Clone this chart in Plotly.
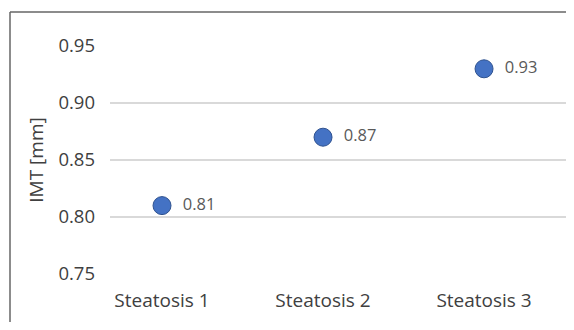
import plotly.graph_objects as go

categories = ["Steatosis 1", "Steatosis 2", "Steatosis 3"]
imt_values = [0.81, 0.87, 0.93]
y_ticks = [0.75, 0.80, 0.85, 0.90, 0.95]
y_tick_labels = ["0.75", "0.80", "0.85", "0.90", "0.95"]

FONT = "Open Sans, Noto Sans, sans-serif"

fig = go.Figure()
fig.add_trace(go.Scatter(
    x=categories,
    y=imt_values,
    mode="markers+text",
    texttemplate="\u00a0\u00a0%{y:.2f}",
    textposition="middle right",
    textfont=dict(family=FONT, size=16.5, color="#595959"),
    marker=dict(size=18, color="#4472C4", line=dict(color="#2F528F", width=1)),
    cliponaxis=False,
    showlegend=False,
))

# page shows the figure inside an 8px body margin (effective 558x314)
W, H = 558, 314
ml, mt = 102, 37
pw, ph = 456, 230
mr = W - ml - pw
mb = H - mt - ph

fig.update_layout(
    width=W, height=H,
    margin=dict(l=ml, r=mr, t=mt, b=mb, pad=0, autoexpand=False),
    paper_bgcolor="white",
    plot_bgcolor="white",
    font=dict(family=FONT, color="#404040"),
    xaxis=dict(
        type="category",
        range=[-0.323, 2.509],
        showgrid=False, zeroline=False, showline=False,
        tickfont=dict(family=FONT, size=19, color="#404040"),
        ticks="", ticklabelstandoff=12,
    ),
    yaxis=dict(
        range=[0.75 - 1 / 1140, 0.95 + 1 / 1140],
        tickvals=y_ticks, ticktext=y_tick_labels,
        showgrid=True, gridcolor="#d9d9d9", gridwidth=1.5,
        zeroline=False, showline=False, ticks="",
        tickfont=dict(family=FONT, size=18.5, color="#404040"),
        ticklabelstandoff=14,
        title=dict(text="IMT [mm]", font=dict(family=FONT, size=19, color="#404040"), standoff=9),
    ),
    shapes=[
        dict(type="line", xref="paper", yref="paper",
             x0=(2 - ml) / pw, x1=1.2, y0=1 + (mt - 4) / ph, y1=1 + (mt - 4) / ph,
             line=dict(color="#666666", width=1.5)),
        dict(type="line", xref="paper", yref="paper",
             x0=(2 - ml) / pw, x1=(2 - ml) / pw, y0=1 + (mt - 4) / ph, y1=-0.5,
             line=dict(color="#666666", width=1.5)),
    ],
)

fig.write_html("out.html")
